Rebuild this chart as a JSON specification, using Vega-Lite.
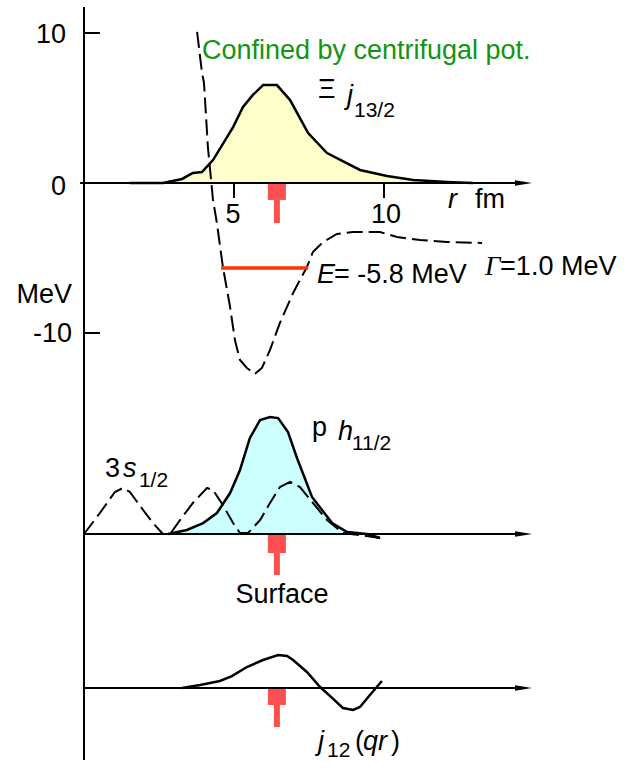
{
  "$schema": "https://vega.github.io/schema/vega-lite/v6.json",
  "width": 627,
  "height": 775,
  "padding": 0,
  "autosize": "none",
  "background": "white",
  "config": {"view": {"stroke": null}},
  "datasets": {
    "xi": [
      {"r": 1.53, "E": 0}, {"r": 2.63, "E": 0}, {"r": 3.27, "E": 0.27}, {"r": 3.63, "E": 0.67},
      {"r": 3.93, "E": 0.73}, {"r": 4.3, "E": 1.53}, {"r": 4.97, "E": 3.73}, {"r": 5.3, "E": 5.07},
      {"r": 5.63, "E": 5.87}, {"r": 5.97, "E": 6.53}, {"r": 6.43, "E": 6.53}, {"r": 6.87, "E": 5.53},
      {"r": 7.47, "E": 3.33}, {"r": 8.1, "E": 2.0}, {"r": 9.2, "E": 0.87}, {"r": 10.1, "E": 0.47},
      {"r": 10.97, "E": 0.2}, {"r": 12.1, "E": 0.07}, {"r": 12.97, "E": 0}
    ],
    "ph": [
      {"r": 2.8, "E": -23.4}, {"r": 3.43, "E": -23.13}, {"r": 3.97, "E": -22.67}, {"r": 4.43, "E": -22.0},
      {"r": 4.87, "E": -20.67}, {"r": 5.2, "E": -19.13}, {"r": 5.53, "E": -17.0}, {"r": 5.87, "E": -15.8},
      {"r": 6.2, "E": -15.6}, {"r": 6.47, "E": -15.67}, {"r": 6.8, "E": -16.6}, {"r": 7.1, "E": -18.33},
      {"r": 7.6, "E": -20.93}, {"r": 8.27, "E": -22.67}, {"r": 8.77, "E": -23.27}, {"r": 9.43, "E": -23.4},
      {"r": 9.87, "E": -23.67}
    ],
    "j12": [
      {"r": 3.27, "E": -33.67}, {"r": 3.87, "E": -33.47}, {"r": 4.53, "E": -33.2}, {"r": 4.93, "E": -32.87},
      {"r": 5.43, "E": -32.27}, {"r": 5.97, "E": -31.8}, {"r": 6.47, "E": -31.47}, {"r": 6.77, "E": -31.53},
      {"r": 6.97, "E": -31.8}, {"r": 7.43, "E": -32.6}, {"r": 7.87, "E": -33.6}, {"r": 8.27, "E": -34.33},
      {"r": 8.63, "E": -35.0}, {"r": 8.97, "E": -35.13}, {"r": 9.2, "E": -34.93}, {"r": 9.53, "E": -34.13},
      {"r": 9.93, "E": -33.2}
    ],
    "dashed": [
      {"c": "pot", "i": 1, "r": 3.77, "E": 10.07}, {"c": "pot", "i": 2, "r": 3.93, "E": 7.4},
      {"c": "pot", "i": 3, "r": 4.0, "E": 6.67}, {"c": "pot", "i": 4, "r": 4.13, "E": 2.4},
      {"c": "pot", "i": 5, "r": 4.3, "E": -1.13}, {"c": "pot", "i": 6, "r": 4.43, "E": -2.67},
      {"c": "pot", "i": 7, "r": 4.63, "E": -5.6}, {"c": "pot", "i": 8, "r": 4.87, "E": -8.27},
      {"c": "pot", "i": 9, "r": 5.03, "E": -10.47}, {"c": "pot", "i": 10, "r": 5.2, "E": -11.8},
      {"c": "pot", "i": 11, "r": 5.43, "E": -12.33}, {"c": "pot", "i": 12, "r": 5.7, "E": -12.73},
      {"c": "pot", "i": 13, "r": 5.93, "E": -12.33}, {"c": "pot", "i": 14, "r": 6.2, "E": -11.13},
      {"c": "pot", "i": 15, "r": 6.53, "E": -9.33}, {"c": "pot", "i": 16, "r": 6.97, "E": -7.33},
      {"c": "pot", "i": 17, "r": 7.43, "E": -5.6}, {"c": "pot", "i": 18, "r": 7.63, "E": -4.6},
      {"c": "pot", "i": 19, "r": 7.97, "E": -3.93}, {"c": "pot", "i": 20, "r": 8.43, "E": -3.4},
      {"c": "pot", "i": 21, "r": 8.97, "E": -3.27}, {"c": "pot", "i": 22, "r": 9.87, "E": -3.27},
      {"c": "pot", "i": 23, "r": 10.43, "E": -3.6}, {"c": "pot", "i": 24, "r": 11.2, "E": -3.8},
      {"c": "pot", "i": 25, "r": 12.1, "E": -3.93}, {"c": "pot", "i": 26, "r": 13.27, "E": -4.0},
      {"c": "s", "i": 1, "r": 0.0, "E": -23.4}, {"c": "s", "i": 2, "r": 0.53, "E": -22.0},
      {"c": "s", "i": 3, "r": 1.03, "E": -20.6}, {"c": "s", "i": 4, "r": 1.3, "E": -20.33},
      {"c": "s", "i": 5, "r": 1.53, "E": -20.6}, {"c": "s", "i": 6, "r": 1.97, "E": -21.8},
      {"c": "s", "i": 7, "r": 2.3, "E": -22.67}, {"c": "s", "i": 8, "r": 2.63, "E": -23.4},
      {"c": "s", "i": 9, "r": 2.87, "E": -23.4}, {"c": "s", "i": 10, "r": 3.2, "E": -22.47},
      {"c": "s", "i": 11, "r": 3.63, "E": -21.33}, {"c": "s", "i": 12, "r": 4.1, "E": -20.33},
      {"c": "s", "i": 13, "r": 4.3, "E": -20.47}, {"c": "s", "i": 14, "r": 4.63, "E": -21.47},
      {"c": "s", "i": 15, "r": 4.97, "E": -22.67}, {"c": "s", "i": 16, "r": 5.2, "E": -23.33},
      {"c": "s", "i": 17, "r": 5.47, "E": -23.33}, {"c": "s", "i": 18, "r": 5.87, "E": -22.47},
      {"c": "s", "i": 19, "r": 6.2, "E": -21.33}, {"c": "s", "i": 20, "r": 6.53, "E": -20.27},
      {"c": "s", "i": 21, "r": 6.87, "E": -19.93}, {"c": "s", "i": 22, "r": 7.2, "E": -20.27},
      {"c": "s", "i": 23, "r": 7.63, "E": -21.33}, {"c": "s", "i": 24, "r": 8.1, "E": -22.47},
      {"c": "s", "i": 25, "r": 8.63, "E": -23.33}, {"c": "s", "i": 26, "r": 9.2, "E": -23.47},
      {"c": "s", "i": 27, "r": 9.87, "E": -23.67}
    ],
    "rules": [
      {"r1": 0, "r2": 0, "e1": 11.73, "e2": -38.47},
      {"r1": 0, "r2": 0.53, "e1": 10, "e2": 10},
      {"r1": 0, "r2": 0.53, "e1": -10, "e2": -10},
      {"r1": -0.13, "r2": 14.7, "e1": 0, "e2": 0},
      {"r1": 0, "r2": 14.7, "e1": -23.4, "e2": -23.4},
      {"r1": 0, "r2": 14.7, "e1": -33.67, "e2": -33.67},
      {"r1": 5, "r2": 5, "e1": 0, "e2": -1.0},
      {"r1": 10, "r2": 10, "e1": 0, "e2": -1.0}
    ],
    "level": [{"r1": 4.57, "r2": 7.47, "e1": -5.67, "e2": -5.67}],
    "markers": [
      {"r1": 6.13, "r2": 6.73, "e1": 0, "e2": -1.13},
      {"r1": 6.33, "r2": 6.53, "e1": -1.13, "e2": -2.67},
      {"r1": 6.13, "r2": 6.73, "e1": -23.4, "e2": -24.67},
      {"r1": 6.33, "r2": 6.53, "e1": -24.67, "e2": -26.13},
      {"r1": 6.13, "r2": 6.73, "e1": -33.67, "e2": -34.8},
      {"r1": 6.33, "r2": 6.53, "e1": -34.8, "e2": -36.27}
    ],
    "arrows": [{"r": 14.65, "E": 0}, {"r": 14.65, "E": -23.4}, {"r": 14.65, "E": -33.67}],
    "tRight": [
      {"t": "10", "r": -0.6, "E": 9.33}, {"t": "0", "r": -0.6, "E": -0.8},
      {"t": "-10", "r": -0.4, "E": -10.6}, {"t": "MeV", "r": -0.4, "E": -8.0}
    ],
    "tCenter": [
      {"t": "5", "r": 4.97, "E": -2.67}, {"t": "10", "r": 10.07, "E": -2.67},
      {"t": "Surface", "r": 6.6, "E": -28.0}
    ],
    "tLeft": [
      {"t": "fm", "r": 13.03, "E": -1.67}, {"t": "Ξ", "r": 7.8, "E": 5.67},
      {"t": "= -5.8 MeV", "r": 8.33, "E": -6.67}, {"t": "=1.0 MeV", "r": 13.87, "E": -6.13},
      {"t": "p", "r": 7.6, "E": -16.9}, {"t": "3", "r": 0.7, "E": -19.6},
      {"t": "(", "r": 9.03, "E": -37.8}, {"t": ")", "r": 10.23, "E": -37.8}
    ],
    "tItalic": [
      {"t": "r", "r": 12.13, "E": -1.67}, {"t": "j", "r": 8.77, "E": 5.27},
      {"t": "E", "r": 7.77, "E": -6.67}, {"t": "h", "r": 8.47, "E": -17.13},
      {"t": "s", "r": 1.3, "E": -19.6}, {"t": "j", "r": 7.8, "E": -37.83},
      {"t": "qr", "r": 9.3, "E": -37.8}
    ],
    "tSub": [
      {"t": "13/2", "r": 9.0, "E": 4.4}, {"t": "11/2", "r": 8.93, "E": -17.8},
      {"t": "1/2", "r": 1.83, "E": -20.27}, {"t": "12", "r": 8.1, "E": -38.27}
    ],
    "tGamma": [{"t": "Γ", "r": 13.37, "E": -6.13}],
    "tGreen": [{"t": "Confined by centrifugal pot.", "r": 3.93, "E": 8.27}]
  },
  "layer": [
    {
      "data": {"name": "xi"},
      "mark": {"type": "area", "color": "#ffffcc", "opacity": 1},
      "encoding": {
        "x": {"field": "r", "type": "quantitative", "scale": {"domain": [-2.8, 18.1], "nice": false, "zero": false}, "axis": null},
        "y": {"field": "E", "type": "quantitative", "scale": {"domain": [-39.4667, 12.2], "nice": false, "zero": false}, "axis": null},
        "y2": {"datum": 0}
      }
    },
    {
      "data": {"name": "ph"},
      "mark": {"type": "area", "color": "#ccffff", "opacity": 1},
      "encoding": {
        "x": {"field": "r", "type": "quantitative", "scale": {"domain": [-2.8, 18.1], "nice": false, "zero": false}, "axis": null},
        "y": {"field": "E", "type": "quantitative", "scale": {"domain": [-39.4667, 12.2], "nice": false, "zero": false}, "axis": null},
        "y2": {"datum": -23.4}
      }
    },
    {
      "data": {"name": "markers"},
      "mark": {"type": "rect", "color": "#ff5050"},
      "encoding": {
        "x": {"field": "r1", "type": "quantitative", "scale": {"domain": [-2.8, 18.1], "nice": false, "zero": false}, "axis": null},
        "x2": {"field": "r2"},
        "y": {"field": "e1", "type": "quantitative", "scale": {"domain": [-39.4667, 12.2], "nice": false, "zero": false}, "axis": null},
        "y2": {"field": "e2"}
      }
    },
    {
      "data": {"name": "rules"},
      "mark": {"type": "rule", "color": "black", "strokeWidth": 2},
      "encoding": {
        "x": {"field": "r1", "type": "quantitative", "scale": {"domain": [-2.8, 18.1], "nice": false, "zero": false}, "axis": null},
        "x2": {"field": "r2"},
        "y": {"field": "e1", "type": "quantitative", "scale": {"domain": [-39.4667, 12.2], "nice": false, "zero": false}, "axis": null},
        "y2": {"field": "e2"}
      }
    },
    {
      "data": {"name": "arrows"},
      "mark": {"type": "point", "shape": "M -1 -0.32 L 1 0 L -1 0.32 Z", "filled": true, "color": "black", "size": 289, "opacity": 1},
      "encoding": {
        "x": {"field": "r", "type": "quantitative", "scale": {"domain": [-2.8, 18.1], "nice": false, "zero": false}, "axis": null},
        "y": {"field": "E", "type": "quantitative", "scale": {"domain": [-39.4667, 12.2], "nice": false, "zero": false}, "axis": null}
      }
    },
    {
      "data": {"name": "dashed"},
      "mark": {"type": "line", "color": "black", "strokeWidth": 2, "strokeDash": [16, 6]},
      "encoding": {
        "x": {"field": "r", "type": "quantitative", "scale": {"domain": [-2.8, 18.1], "nice": false, "zero": false}, "axis": null},
        "y": {"field": "E", "type": "quantitative", "scale": {"domain": [-39.4667, 12.2], "nice": false, "zero": false}, "axis": null},
        "detail": {"field": "c"},
        "order": {"field": "i"}
      }
    },
    {
      "data": {"name": "xi"},
      "mark": {"type": "line", "color": "black", "strokeWidth": 2.5},
      "encoding": {
        "x": {"field": "r", "type": "quantitative", "scale": {"domain": [-2.8, 18.1], "nice": false, "zero": false}, "axis": null},
        "y": {"field": "E", "type": "quantitative", "scale": {"domain": [-39.4667, 12.2], "nice": false, "zero": false}, "axis": null}
      }
    },
    {
      "data": {"name": "ph"},
      "mark": {"type": "line", "color": "black", "strokeWidth": 2.5},
      "encoding": {
        "x": {"field": "r", "type": "quantitative", "scale": {"domain": [-2.8, 18.1], "nice": false, "zero": false}, "axis": null},
        "y": {"field": "E", "type": "quantitative", "scale": {"domain": [-39.4667, 12.2], "nice": false, "zero": false}, "axis": null}
      }
    },
    {
      "data": {"name": "j12"},
      "mark": {"type": "line", "color": "black", "strokeWidth": 2.5},
      "encoding": {
        "x": {"field": "r", "type": "quantitative", "scale": {"domain": [-2.8, 18.1], "nice": false, "zero": false}, "axis": null},
        "y": {"field": "E", "type": "quantitative", "scale": {"domain": [-39.4667, 12.2], "nice": false, "zero": false}, "axis": null}
      }
    },
    {
      "data": {"name": "level"},
      "mark": {"type": "rule", "color": "#ff3300", "strokeWidth": 3.5},
      "encoding": {
        "x": {"field": "r1", "type": "quantitative", "scale": {"domain": [-2.8, 18.1], "nice": false, "zero": false}, "axis": null},
        "x2": {"field": "r2"},
        "y": {"field": "e1", "type": "quantitative", "scale": {"domain": [-39.4667, 12.2], "nice": false, "zero": false}, "axis": null},
        "y2": {"field": "e2"}
      }
    },
    {
      "data": {"name": "tRight"},
      "mark": {"type": "text", "align": "right", "baseline": "alphabetic", "font": "Liberation Sans", "fontSize": 27, "color": "black"},
      "encoding": {
        "x": {"field": "r", "type": "quantitative", "scale": {"domain": [-2.8, 18.1], "nice": false, "zero": false}, "axis": null},
        "y": {"field": "E", "type": "quantitative", "scale": {"domain": [-39.4667, 12.2], "nice": false, "zero": false}, "axis": null},
        "text": {"field": "t"}
      }
    },
    {
      "data": {"name": "tCenter"},
      "mark": {"type": "text", "align": "center", "baseline": "alphabetic", "font": "Liberation Sans", "fontSize": 27, "color": "black"},
      "encoding": {
        "x": {"field": "r", "type": "quantitative", "scale": {"domain": [-2.8, 18.1], "nice": false, "zero": false}, "axis": null},
        "y": {"field": "E", "type": "quantitative", "scale": {"domain": [-39.4667, 12.2], "nice": false, "zero": false}, "axis": null},
        "text": {"field": "t"}
      }
    },
    {
      "data": {"name": "tLeft"},
      "mark": {"type": "text", "align": "left", "baseline": "alphabetic", "font": "Liberation Sans", "fontSize": 27, "color": "black"},
      "encoding": {
        "x": {"field": "r", "type": "quantitative", "scale": {"domain": [-2.8, 18.1], "nice": false, "zero": false}, "axis": null},
        "y": {"field": "E", "type": "quantitative", "scale": {"domain": [-39.4667, 12.2], "nice": false, "zero": false}, "axis": null},
        "text": {"field": "t"}
      }
    },
    {
      "data": {"name": "tItalic"},
      "mark": {"type": "text", "align": "left", "baseline": "alphabetic", "font": "Liberation Sans", "fontStyle": "italic", "fontSize": 27, "color": "black"},
      "encoding": {
        "x": {"field": "r", "type": "quantitative", "scale": {"domain": [-2.8, 18.1], "nice": false, "zero": false}, "axis": null},
        "y": {"field": "E", "type": "quantitative", "scale": {"domain": [-39.4667, 12.2], "nice": false, "zero": false}, "axis": null},
        "text": {"field": "t"}
      }
    },
    {
      "data": {"name": "tSub"},
      "mark": {"type": "text", "align": "left", "baseline": "alphabetic", "font": "Liberation Sans", "fontSize": 21, "color": "black"},
      "encoding": {
        "x": {"field": "r", "type": "quantitative", "scale": {"domain": [-2.8, 18.1], "nice": false, "zero": false}, "axis": null},
        "y": {"field": "E", "type": "quantitative", "scale": {"domain": [-39.4667, 12.2], "nice": false, "zero": false}, "axis": null},
        "text": {"field": "t"}
      }
    },
    {
      "data": {"name": "tGamma"},
      "mark": {"type": "text", "align": "left", "baseline": "alphabetic", "font": "Liberation Serif", "fontStyle": "italic", "fontSize": 27, "color": "black"},
      "encoding": {
        "x": {"field": "r", "type": "quantitative", "scale": {"domain": [-2.8, 18.1], "nice": false, "zero": false}, "axis": null},
        "y": {"field": "E", "type": "quantitative", "scale": {"domain": [-39.4667, 12.2], "nice": false, "zero": false}, "axis": null},
        "text": {"field": "t"}
      }
    },
    {
      "data": {"name": "tGreen"},
      "mark": {"type": "text", "align": "left", "baseline": "alphabetic", "font": "Liberation Sans", "fontSize": 27, "color": "#129412"},
      "encoding": {
        "x": {"field": "r", "type": "quantitative", "scale": {"domain": [-2.8, 18.1], "nice": false, "zero": false}, "axis": null},
        "y": {"field": "E", "type": "quantitative", "scale": {"domain": [-39.4667, 12.2], "nice": false, "zero": false}, "axis": null},
        "text": {"field": "t"}
      }
    }
  ]
}
